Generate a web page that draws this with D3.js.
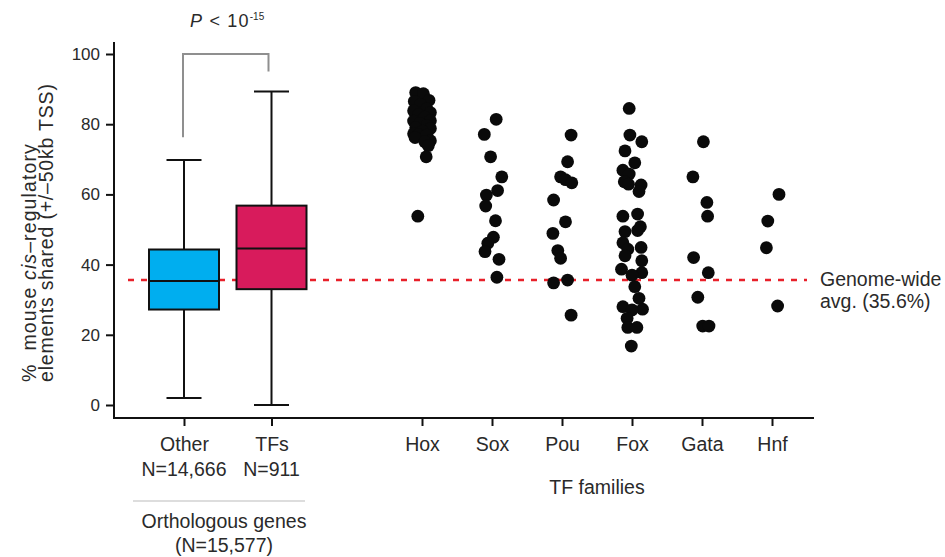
<!DOCTYPE html>
<html lang="en">
<head>
<meta charset="UTF-8">
<title>cis-regulatory elements shared</title>
<script src="https://cdn.jsdelivr.net/npm/d3@7/dist/d3.min.js"></script>
<style>
    body { margin: 0; background: #fff; }
    svg text { font-family: "Liberation Sans", Arial, Helvetica, sans-serif; fill: #2a2a2a; }
</style>
</head>
<body>
<div id="chart"></div>
<script>
const width = 945;
const height = 557;

// categories along x (slot index in category units)
const cats = ['Other', 'TFs', 'Hox', 'Sox', 'Pou', 'Fox', 'Gata', 'Hnf'];
const catSlot = [0, 1.25, 3.4, 4.4, 5.4, 6.4, 7.4, 8.4];
const nLabels = ['N=14,666', 'N=911'];

// box plot stats (Other, TFs)
const boxLow = [2.0, 0];
const boxQ1 = [27.2, 33.0];
const boxMed = [35.3, 44.6];
const boxQ3 = [44.3, 56.8];
const boxHigh = [69.8, 89.3];
const boxColors = ['#00aeef', '#d81b5c'];

const genomeAvg = 35.6;
const bracketLegs = [76.3, 95];

// TF family points: [value, horizontal jitter in category units]
const hox = [[89.0,-0.09],[88.7,0.02],[86.8,0.10],[86.5,-0.11],[85.6,-0.02],[84.4,0.07],[83.3,0.12],
    [83.8,-0.12],[82.7,-0.05],[82.0,0.04],[81.0,0.12],[80.9,-0.12],[80.2,-0.03],[79.6,0.07],[79.0,-0.09],
    [78.8,0.12],[78.0,0.01],[77.3,-0.12],[77.0,-0.05],[76.9,0.07],[75.3,0.12],[76.2,-0.10],[75.0,0.04],
    [73.9,0.09],[70.7,0.06],[53.8,-0.06]];
const sox = [[81.4,0.06],[77.1,-0.11],[70.7,-0.02],[65.0,0.14],[61.1,0.08],[59.8,-0.08],[56.7,-0.09],
    [52.5,0.05],[47.8,0.02],[46.1,-0.06],[43.7,-0.10],[41.5,0.10],[36.4,0.07]];
const pou = [[76.9,0.13],[69.3,0.08],[65.0,-0.02],[64.2,0.05],[63.3,0.14],[58.4,-0.12],[52.2,0.05],
    [48.9,-0.13],[44.0,-0.06],[41.8,-0.02],[35.6,0.08],[34.8,-0.12],[25.6,0.13]];
const fox = [[84.5,-0.04],[76.9,-0.03],[75.0,0.14],[72.4,-0.10],[69.0,0.04],[66.9,-0.13],[65.8,-0.04],
    [63.6,-0.11],[62.9,-0.05],[62.7,0.13],[60.8,0.10],[54.4,0.08],[53.8,-0.13],[50.8,0.12],[49.7,0.08],
    [49.4,-0.10],[46.2,-0.13],[44.9,0.13],[44.4,-0.06],[42.5,-0.10],[41.1,0.14],[38.7,-0.15],[37.7,0.14],
    [37.0,0.0],[33.7,0.04],[30.4,0.10],[28.0,-0.13],[27.3,0.15],[27.1,0.0],[24.7,-0.07],[22.1,-0.06],
    [22.1,0.07],[16.8,-0.01]];
const gata = [[75.0,0.02],[65.0,-0.13],[57.7,0.07],[53.8,0.08],[42.0,-0.12],[37.7,0.09],[30.7,-0.06],
    [22.5,0.01],[22.5,0.10]];
const hnf = [[60.0,0.10],[52.4,-0.06],[44.8,-0.08],[28.2,0.08]];
const families = [hox, sox, pou, fox, gata, hnf];

const yTicks = [0, 20, 40, 60, 80, 100];

const svg = d3.select('#chart').append('svg')
    .attr('width', width)
    .attr('height', height);

// scales
const x = d3.scaleLinear().domain([-1, 9]).range([114, 814]);
const y = d3.scaleLinear().domain([0, 100]).range([405, 54]);
const unit = x(1) - x(0);
const labSize = '19.5px';

// axes frame
svg.append('path')
    .attr('d', `M${x(-1)},${y(103.4)}V${y(-3.7)}H${x(9)}`)
    .attr('fill', 'none')
    .attr('stroke', '#111')
    .attr('stroke-width', 2);

const yAxis = svg.append('g')
    .attr('transform', `translate(${x(-1)},0)`)
    .call(d3.axisLeft(y).tickValues(yTicks).tickSize(8).tickPadding(6));
yAxis.select('.domain').remove();
yAxis.selectAll('line').attr('stroke', '#111').attr('stroke-width', 2);
yAxis.selectAll('text').style('font-size', '17px').attr('fill', '#2a2a2a');

const xAxis = svg.append('g')
    .attr('transform', `translate(0,${y(-3.7)})`)
    .call(d3.axisBottom(x).tickValues(catSlot).tickFormat((d, i) => cats[i]).tickSize(8).tickPadding(11));
xAxis.select('.domain').remove();
xAxis.selectAll('line').attr('stroke', '#111').attr('stroke-width', 2);
xAxis.selectAll('text').style('font-size', labSize).attr('fill', '#2a2a2a');

// N labels under Other / TFs
svg.selectAll('.nlab')
    .data(nLabels).enter()
    .append('text')
    .attr('class', 'nlab')
    .attr('x', (d, i) => x(catSlot[i]))
    .attr('y', 476)
    .attr('text-anchor', 'middle')
    .style('font-size', labSize)
    .text(d => d);

svg.append('line')
    .attr('x1', 133).attr('x2', 305)
    .attr('y1', 501).attr('y2', 501)
    .attr('stroke', '#bbb').attr('stroke-width', 1);

svg.append('text')
    .attr('x', 224).attr('y', 528)
    .attr('text-anchor', 'middle')
    .style('font-size', labSize)
    .text('Orthologous genes');
svg.append('text')
    .attr('x', 224).attr('y', 552)
    .attr('text-anchor', 'middle')
    .style('font-size', labSize)
    .text('(N=15,577)');

svg.append('text')
    .attr('x', (x(catSlot[2]) + x(catSlot[7])) / 2)
    .attr('y', 494)
    .attr('text-anchor', 'middle')
    .style('font-size', labSize)
    .text('TF families');

// y label, two lines
const yl = svg.append('g').attr('transform', 'translate(0,382) rotate(-90)');
const yl1 = yl.append('text').attr('x', 0).attr('y', 36)
    .style('font-size', '19.5px').style('letter-spacing', '1.1px')
    .style('white-space', 'pre');
yl1.append('tspan').text('%  mouse ');
yl1.append('tspan').style('font-style', 'italic').text('cis');
yl1.append('tspan').text('–regulatory');
yl.append('text').attr('x', 0).attr('y', 53)
    .style('font-size', '19.5px').style('letter-spacing', '0.8px')
    .text('elements shared (+/–50kb TSS)');

// genome-wide average
svg.append('line')
    .attr('x1', x(-0.8)).attr('x2', x(8.9))
    .attr('y1', y(genomeAvg)).attr('y2', y(genomeAvg))
    .attr('stroke', '#e8202a')
    .attr('stroke-width', 2.5)
    .attr('stroke-dasharray', '6,7');

svg.append('text').attr('x', 820).attr('y', 286)
    .style('font-size', labSize).text('Genome-wide');
svg.append('text').attr('x', 820).attr('y', 308)
    .style('font-size', labSize).text('avg. (' + genomeAvg + '%)');

// box plots
const boxes = svg.append('g');
boxLow.forEach((lo, i) => {
    const cx = x(catSlot[i]);
    const g = boxes.append('g');
    g.append('line')
        .attr('x1', cx).attr('x2', cx)
        .attr('y1', y(lo)).attr('y2', y(boxHigh[i]))
        .attr('stroke', '#111').attr('stroke-width', 2);
    [lo, boxHigh[i]].forEach(v => {
        g.append('line')
            .attr('x1', cx - unit * 0.25).attr('x2', cx + unit * 0.25)
            .attr('y1', y(v)).attr('y2', y(v))
            .attr('stroke', '#111').attr('stroke-width', 2);
    });
    g.append('rect')
        .attr('x', cx - unit * 0.5)
        .attr('width', unit)
        .attr('y', y(boxQ3[i]))
        .attr('height', y(boxQ1[i]) - y(boxQ3[i]))
        .attr('fill', boxColors[i])
        .attr('stroke', '#111').attr('stroke-width', 2);
    g.append('line')
        .attr('x1', cx - unit * 0.5).attr('x2', cx + unit * 0.5)
        .attr('y1', y(boxMed[i])).attr('y2', y(boxMed[i]))
        .attr('stroke', '#111').attr('stroke-width', 2);
});

// significance bracket
svg.append('path')
    .attr('d', `M${x(catSlot[0]) - 1},${y(bracketLegs[0])}V${y(100)}H${x(catSlot[1]) - 3}V${y(bracketLegs[1])}`)
    .attr('fill', 'none')
    .attr('stroke', '#8f8f8f')
    .attr('stroke-width', 2);

const pl = svg.append('text')
    .attr('x', 190).attr('y', 27)
    .style('font-size', '18px')
    .style('letter-spacing', '1.2px');
pl.append('tspan').style('font-style', 'italic').text('P');
pl.append('tspan').text(' < 10');
pl.append('tspan').attr('dy', -7).style('font-size', '10px').style('letter-spacing', '0px').text('-15');

// family points
families.forEach((pts, k) => {
    const cx = catSlot[k + 2];
    svg.append('g')
        .selectAll('circle')
        .data(pts).enter()
        .append('circle')
        .attr('cx', d => x(cx + d[1]))
        .attr('cy', d => y(d[0]))
        .attr('r', 6.4)
        .attr('fill', '#0a0a0a');
});
</script>
</body>
</html>
